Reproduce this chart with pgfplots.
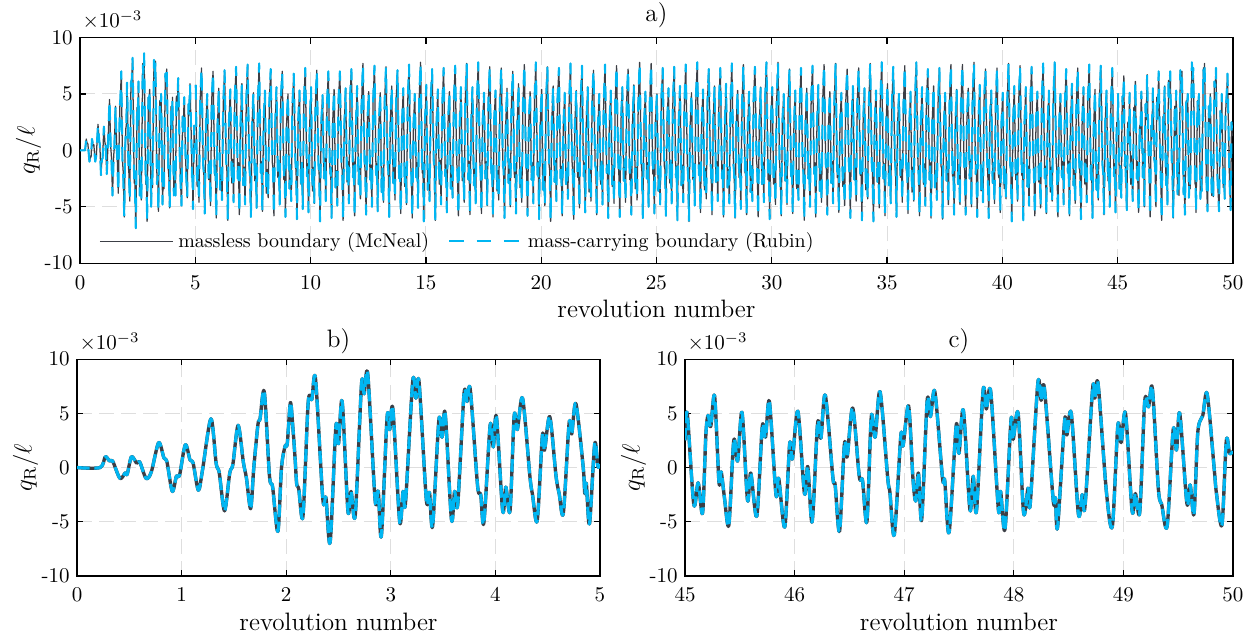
\documentclass[border=0pt]{standalone}
\usepackage{pgfplots}
\usepackage{pgfplotstable}
\pgfplotsset{compat=1.18}
\definecolor{cblk}{RGB}{60,63,70}
\definecolor{cblu}{RGB}{0,182,242}
\definecolor{cgrid}{RGB}{222,222,222}

\pgfplotstableread[row sep=\\]{
x y\\
0 0\\ 0.22 0\\ 0.27 1.0\\ 0.31 0.6\\ 0.34 0.6\\ 0.41 -1.0\\ 0.46 -0.5\\ 0.48 -0.6\\ 0.52 1.0\\ 0.57 0.4\\ 0.60 0.5\\ 0.66 -1.0\\ 0.71 -0.4\\ 0.78 2.3\\ 0.83 0.9\\ 0.86 0.5\\ 0.91 -2.2\\ 0.95 -0.8\\ 0.98 -0.7\\
1.035 2.1\\ 1.08 0.7\\ 1.11 0.4\\ 1.16 -2.1\\ 1.20 -0.2\\ 1.28 4.5\\ 1.33 0.4\\ 1.36 -0.5\\ 1.41 -4.0\\ 1.46 -0.5\\ 1.49 0.3\\ 1.54 3.9\\ 1.59 0.5\\ 1.62 -1.0\\ 1.66 -3.8\\ 1.69 0.0\\ 1.73 4.0\\ 1.75 4.5\\ 1.79 7.0\\ 1.84 -0.8\\ 1.87 -1.8\\ 1.92 -5.9\\ 1.955 0.0\\ 1.99 2.0\\
2.01 2.2\\ 2.04 6.0\\ 2.065 3.5\\ 2.085 0.8\\ 2.10 -1.5\\ 2.12 -2.0\\ 2.16 -4.5\\ 2.21 6.0\\ 2.245 6.3\\ 2.28 8.2\\ 2.35 -2.9\\ 2.38 -2.8\\ 2.42 -6.9\\ 2.475 3.8\\ 2.50 2.2\\ 2.535 6.1\\ 2.59 -4.0\\ 2.62 -2.2\\ 2.66 -4.4\\ 2.72 7.7\\ 2.745 6.8\\ 2.78 8.6\\ 2.85 -3.0\\ 2.88 -2.2\\ 2.91 -6.3\\ 2.965 4.7\\ 2.99 3.5\\
3.02 5.4\\ 3.085 -5.0\\ 3.117 -2.2\\ 3.14 -3.3\\ 3.21 8.0\\ 3.24 6.4\\ 3.27 7.9\\ 3.34 -3.0\\ 3.37 -2.3\\ 3.40 -5.4\\ 3.46 4.4\\ 3.49 2.8\\ 3.52 5.0\\ 3.58 -4.8\\ 3.61 -2.2\\ 3.64 -3.4\\ 3.70 6.8\\ 3.73 6.1\\ 3.76 7.2\\ 3.83 -1.7\\ 3.86 -2.5\\ 3.89 -5.1\\ 3.95 3.9\\ 3.98 1.9\\
4.01 4.7\\ 4.07 -4.0\\ 4.10 -1.8\\ 4.14 -4.0\\ 4.18 4.8\\ 4.21 3.5\\ 4.26 6.4\\ 4.33 -0.8\\ 4.355 -2.5\\ 4.40 -4.9\\ 4.45 3.0\\ 4.47 1.6\\ 4.52 4.7\\ 4.58 -0.8\\ 4.61 -2.4\\ 4.65 -4.2\\ 4.705 4.1\\ 4.73 3.1\\ 4.77 5.9\\ 4.84 0.0\\ 4.855 -2.4\\ 4.87 -1.5\\ 4.90 -5.2\\ 4.95 2.2\\ 4.98 0.1\\ 5.0 0.3\\
}\bdata

\pgfplotstableread[row sep=\\]{
x y\\
45.00 2.5\\ 45.02 5.0\\ 45.08 -3.4\\ 45.12 -1.4\\ 45.16 -4.2\\ 45.19 3.0\\ 45.21 4.8\\ 45.235 3.8\\ 45.27 6.6\\ 45.31 -1.4\\ 45.33 -0.4\\ 45.36 -2.8\\ 45.40 -5.3\\ 45.445 2.5\\ 45.48 0.6\\ 45.52 5.1\\ 45.57 -3.0\\ 45.60 -0.5\\ 45.655 -4.5\\ 45.705 3.8\\ 45.735 2.8\\ 45.77 6.1\\ 45.83 -2.5\\ 45.855 -1.0\\ 45.91 -5.5\\ 45.955 2.2\\ 45.98 0.8\\
46.03 5.2\\ 46.09 -2.4\\ 46.12 0.1\\ 46.16 -5.0\\ 46.21 4.1\\ 46.24 2.7\\ 46.28 6.7\\ 46.35 -1.0\\ 46.37 -1.6\\ 46.41 -5.9\\ 46.455 2.2\\ 46.48 1.0\\ 46.53 5.5\\ 46.59 -0.8\\ 46.62 -1.2\\ 46.66 -5.0\\ 46.70 4.7\\ 46.735 2.8\\ 46.78 7.0\\ 46.85 -1.0\\ 46.87 -2.3\\ 46.91 -6.2\\ 46.97 3.0\\ 46.99 2.0\\
47.04 5.7\\ 47.08 -1.0\\ 47.105 -3.1\\ 47.13 -0.5\\ 47.16 -4.8\\ 47.21 6.2\\ 47.24 4.7\\ 47.28 7.0\\ 47.35 -1.0\\ 47.37 -1.2\\ 47.41 -6.0\\ 47.475 3.9\\ 47.50 1.3\\ 47.54 5.3\\ 47.60 -3.9\\ 47.63 -0.8\\ 47.66 -4.0\\ 47.72 7.1\\ 47.75 5.4\\ 47.79 7.0\\ 47.86 -3.9\\ 47.88 -2.2\\ 47.92 -5.7\\ 47.975 4.4\\ 47.995 2.6\\
48.04 5.0\\ 48.09 -4.2\\ 48.13 -1.9\\ 48.15 -3.4\\ 48.22 7.8\\ 48.25 6.2\\ 48.28 7.3\\ 48.36 -3.0\\ 48.38 -2.8\\ 48.40 -5.5\\ 48.465 4.4\\ 48.485 3.0\\ 48.525 5.0\\ 48.59 -4.3\\ 48.625 -2.5\\ 48.65 -3.6\\ 48.72 7.3\\ 48.74 6.4\\ 48.77 7.7\\ 48.845 -2.2\\ 48.90 -5.4\\ 48.95 3.9\\ 48.98 2.3\\
49.02 5.0\\ 49.08 -4.0\\ 49.11 -2.4\\ 49.15 -4.1\\ 49.195 6.1\\ 49.23 5.6\\ 49.265 7.3\\ 49.32 -2.0\\ 49.35 -3.4\\ 49.40 -5.4\\ 49.455 3.5\\ 49.485 1.6\\ 49.515 5.0\\ 49.58 -3.3\\ 49.61 -1.6\\ 49.645 -4.3\\ 49.68 3.3\\ 49.725 4.8\\ 49.765 6.8\\ 49.83 -0.2\\ 49.85 -2.4\\ 49.90 -5.3\\ 49.94 2.5\\ 49.97 1.3\\ 50.0 1.5\\
}\cdata

\pgfplotstableread[row sep=\\]{
x y\\
5.02 5.8\\5.08 -3.2\\5.12 -1.4\\5.16 -4.6\\5.21 4.3\\5.27 7.3\\5.34 -1.2\\5.37 -2.0\\5.41 -5.6\\5.46 2.4\\5.52 5.0\\5.58 -2.6\\5.62 -1.0\\5.66 -4.9\\5.71 4.4\\5.77 7.0\\5.84 -2.2\\5.87 -1.3\\5.91 -6.0\\5.96 2.1\\
6.02 5.5\\6.08 -3.5\\6.12 -1.6\\6.16 -4.4\\6.21 4.0\\6.27 7.1\\6.34 -1.0\\6.37 -1.8\\6.41 -6.2\\6.46 2.6\\6.52 5.4\\6.58 -2.9\\6.62 -0.8\\6.66 -4.6\\6.71 4.6\\6.77 7.4\\6.84 -2.5\\6.87 -1.1\\6.91 -5.7\\6.96 2.3\\
7.02 5.9\\7.08 -3.1\\7.12 -1.5\\7.16 -4.8\\7.21 4.4\\7.27 7.6\\7.34 -1.3\\7.37 -2.2\\7.41 -5.9\\7.46 2.2\\7.52 5.1\\7.58 -2.7\\7.62 -1.2\\7.66 -5.1\\7.71 4.1\\7.77 7.7\\7.84 -2.0\\7.87 -1.0\\7.91 -5.4\\7.96 2.5\\
8.02 5.3\\8.08 -3.8\\8.12 -1.7\\8.16 -4.2\\8.21 4.2\\8.27 7.2\\8.34 -1.1\\8.37 -1.6\\8.41 -5.8\\8.46 2.0\\8.52 5.6\\8.58 -2.4\\8.62 -0.9\\8.66 -4.8\\8.71 4.5\\8.77 7.0\\8.84 -2.6\\8.87 -1.4\\8.91 -5.9\\8.96 2.4\\
9.02 5.0\\9.08 -3.4\\9.12 -1.3\\9.16 -4.5\\9.21 3.9\\9.27 6.8\\9.34 -0.9\\9.37 -1.9\\9.41 -6.1\\9.46 2.5\\9.52 5.3\\9.58 -3.0\\9.62 -1.1\\9.66 -5.2\\9.71 4.3\\9.77 7.3\\9.84 -2.3\\9.87 -1.2\\9.91 -5.5\\9.96 2.2\\
10.02 5.6\\10.08 -3.6\\10.12 -1.5\\10.16 -4.7\\10.21 4.1\\10.27 7.1\\10.34 -1.2\\10.37 -2.1\\10.41 -6.3\\10.46 2.3\\10.52 4.9\\10.58 -2.5\\10.62 -0.7\\10.66 -4.5\\10.71 4.0\\10.77 7.0\\10.84 -2.1\\10.87 -1.5\\10.91 -6.0\\10.96 2.6\\
11.02 5.4\\11.08 -3.3\\11.12 -1.8\\11.16 -4.9\\11.21 4.5\\11.27 7.0\\11.34 -1.4\\11.37 -1.7\\11.41 -6.2\\11.46 2.1\\11.52 5.5\\11.58 -2.8\\11.62 -1.0\\11.66 -4.7\\11.71 4.6\\11.77 7.2\\11.84 -2.4\\11.87 -1.0\\11.91 -5.8\\11.96 2.0\\
12.02 5.7\\12.08 -3.0\\12.12 -1.4\\12.16 -4.3\\12.21 4.0\\12.27 7.7\\12.34 -1.0\\12.37 -2.0\\12.41 -5.7\\12.46 2.4\\12.52 5.2\\12.58 -2.6\\12.62 -1.3\\12.66 -5.0\\12.71 4.2\\12.77 7.5\\12.84 -2.2\\12.87 -1.2\\12.91 -5.4\\12.96 2.3\\
13.02 5.1\\13.08 -3.7\\13.12 -1.6\\13.16 -4.6\\13.21 4.3\\13.27 7.4\\13.34 -1.1\\13.37 -1.8\\13.41 -5.9\\13.46 2.6\\13.52 5.7\\13.58 -2.9\\13.62 -0.8\\13.66 -4.4\\13.71 4.4\\13.77 7.1\\13.84 -2.5\\13.87 -1.4\\13.91 -5.6\\13.96 2.1\\
14.02 5.5\\14.08 -3.2\\14.12 -1.5\\14.16 -4.8\\14.21 4.1\\14.27 7.6\\14.34 -1.3\\14.37 -2.2\\14.41 -6.0\\14.46 2.2\\14.52 5.0\\14.58 -2.4\\14.62 -1.1\\14.66 -5.1\\14.71 4.6\\14.77 7.8\\14.84 -2.0\\14.87 -1.1\\14.91 -6.3\\14.96 2.5\\
15.02 5.8\\15.08 -3.5\\15.12 -1.7\\15.16 -4.5\\15.21 4.4\\15.27 7.2\\15.34 -0.9\\15.37 -1.6\\15.41 -6.2\\15.46 2.3\\15.52 5.4\\15.58 -3.0\\15.62 -0.9\\15.66 -4.8\\15.71 4.0\\15.77 7.3\\15.84 -2.3\\15.87 -1.3\\15.91 -5.5\\15.96 2.4\\
16.02 5.2\\16.08 -3.4\\16.12 -1.4\\16.16 -4.2\\16.21 4.2\\16.27 7.5\\16.34 -1.2\\16.37 -2.0\\16.41 -5.8\\16.46 2.0\\16.52 5.6\\16.58 -2.7\\16.62 -1.2\\16.66 -4.6\\16.71 4.5\\16.77 7.7\\16.84 -2.6\\16.87 -1.0\\16.91 -5.7\\16.96 2.2\\
17.02 5.6\\17.08 -3.1\\17.12 -1.6\\17.16 -4.7\\17.21 4.0\\17.27 7.8\\17.34 -1.0\\17.37 -1.9\\17.41 -5.6\\17.46 2.5\\17.52 5.1\\17.58 -2.5\\17.62 -1.0\\17.66 -4.9\\17.71 4.3\\17.77 7.4\\17.84 -2.1\\17.87 -1.5\\17.91 -5.9\\17.96 2.6\\
18.02 5.3\\18.08 -3.6\\18.12 -1.8\\18.16 -4.4\\18.21 4.5\\18.27 7.3\\18.34 -1.4\\18.37 -1.7\\18.41 -6.0\\18.46 2.1\\18.52 5.5\\18.58 -2.9\\18.62 -0.8\\18.66 -5.0\\18.71 4.1\\18.77 7.0\\18.84 -2.4\\18.87 -1.2\\18.91 -5.6\\18.96 2.3\\
19.02 5.9\\19.08 -3.3\\19.12 -1.5\\19.16 -4.6\\19.21 4.1\\19.27 7.6\\19.34 -1.1\\19.37 -2.1\\19.41 -5.8\\19.46 2.4\\19.52 5.2\\19.58 -2.6\\19.62 -1.1\\19.66 -4.7\\19.71 4.4\\19.77 7.8\\19.84 -2.2\\19.87 -1.0\\19.91 -6.1\\19.96 2.2\\
20.02 5.4\\20.08 -3.5\\20.12 -1.3\\20.16 -4.9\\20.21 4.3\\20.27 7.4\\20.34 -1.2\\20.37 -1.8\\20.41 -6.3\\20.46 2.6\\20.52 5.7\\20.58 -2.8\\20.62 -0.9\\20.66 -4.5\\20.71 4.6\\20.77 7.3\\20.84 -2.5\\20.87 -1.4\\20.91 -5.8\\20.96 2.0\\
21.02 5.1\\21.08 -3.0\\21.12 -1.6\\21.16 -4.3\\21.21 4.0\\21.27 7.7\\21.34 -1.0\\21.37 -2.0\\21.41 -6.1\\21.46 2.3\\21.52 5.3\\21.58 -2.4\\21.62 -1.2\\21.66 -5.1\\21.71 4.2\\21.77 7.5\\21.84 -2.3\\21.87 -1.1\\21.91 -5.5\\21.96 2.5\\
22.02 5.6\\22.08 -3.7\\22.12 -1.7\\22.16 -4.5\\22.21 4.4\\22.27 7.1\\22.34 -1.3\\22.37 -1.6\\22.41 -5.7\\22.46 2.1\\22.52 5.0\\22.58 -3.0\\22.62 -1.0\\22.66 -4.8\\22.71 4.0\\22.77 7.6\\22.84 -2.0\\22.87 -1.3\\22.91 -6.0\\22.96 2.4\\
23.02 5.3\\23.08 -3.2\\23.12 -1.4\\23.16 -4.7\\23.21 4.2\\23.27 7.5\\23.34 -0.9\\23.37 -2.2\\23.41 -5.9\\23.46 2.5\\23.52 5.6\\23.58 -2.7\\23.62 -0.8\\23.66 -4.6\\23.71 4.5\\23.77 7.2\\23.84 -2.6\\23.87 -1.2\\23.91 -5.7\\23.96 2.2\\
24.02 5.8\\24.08 -3.4\\24.12 -1.5\\24.16 -4.4\\24.21 4.1\\24.27 7.8\\24.34 -1.1\\24.37 -1.9\\24.41 -6.0\\24.46 2.2\\24.52 5.2\\24.58 -2.5\\24.62 -1.1\\24.66 -5.0\\24.71 4.3\\24.77 7.7\\24.84 -2.1\\24.87 -1.0\\24.91 -5.6\\24.96 2.6\\
25.02 5.0\\25.08 -3.6\\25.12 -1.8\\25.16 -4.8\\25.21 4.5\\25.27 7.3\\25.34 -1.4\\25.37 -1.7\\25.41 -5.8\\25.46 2.4\\25.52 5.5\\25.58 -2.9\\25.62 -0.9\\25.66 -4.7\\25.71 4.1\\25.77 7.4\\25.84 -2.4\\25.87 -1.4\\25.91 -6.2\\25.96 2.3\\
26.02 5.7\\26.08 -3.1\\26.12 -1.3\\26.16 -4.6\\26.21 4.0\\26.27 7.6\\26.34 -1.2\\26.37 -2.1\\26.41 -6.3\\26.46 2.0\\26.52 5.1\\26.58 -2.6\\26.62 -1.2\\26.66 -4.9\\26.71 4.6\\26.77 7.8\\26.84 -2.2\\26.87 -1.1\\26.91 -5.5\\26.96 2.5\\
27.02 5.4\\27.08 -3.5\\27.12 -1.6\\27.16 -4.3\\27.21 4.3\\27.27 7.2\\27.34 -1.0\\27.37 -1.8\\27.41 -5.7\\27.46 2.6\\27.52 5.7\\27.58 -2.8\\27.62 -1.0\\27.66 -4.5\\27.71 4.4\\27.77 7.3\\27.84 -2.5\\27.87 -1.3\\27.91 -5.9\\27.96 2.1\\
28.02 5.9\\28.08 -3.3\\28.12 -1.7\\28.16 -4.7\\28.21 4.2\\28.27 7.7\\28.34 -1.3\\28.37 -2.0\\28.41 -6.0\\28.46 2.3\\28.52 5.3\\28.58 -2.4\\28.62 -0.8\\28.66 -5.2\\28.71 4.0\\28.77 7.6\\28.84 -2.0\\28.87 -1.0\\28.91 -5.7\\28.96 2.4\\
29.02 5.2\\29.08 -3.7\\29.12 -1.4\\29.16 -4.5\\29.21 4.4\\29.27 7.4\\29.34 -0.9\\29.37 -1.6\\29.41 -5.9\\29.46 2.2\\29.52 5.6\\29.58 -3.0\\29.62 -1.1\\29.66 -4.6\\29.71 4.5\\29.77 7.8\\29.84 -2.6\\29.87 -1.2\\29.91 -6.1\\29.96 2.6\\
30.02 5.6\\30.08 -3.0\\30.12 -1.5\\30.16 -4.8\\30.21 4.1\\30.27 7.8\\30.34 -1.1\\30.37 -2.2\\30.41 -5.8\\30.46 2.5\\30.52 5.0\\30.58 -2.7\\30.62 -0.9\\30.66 -4.8\\30.71 4.2\\30.77 7.2\\30.84 -2.3\\30.87 -1.4\\30.91 -5.6\\30.96 2.0\\
31.02 5.3\\31.08 -3.4\\31.12 -1.8\\31.16 -4.4\\31.21 4.0\\31.27 7.3\\31.34 -1.4\\31.37 -1.9\\31.41 -6.2\\31.46 2.4\\31.52 5.5\\31.58 -2.5\\31.62 -1.2\\31.66 -5.0\\31.71 4.6\\31.77 7.5\\31.84 -2.1\\31.87 -1.1\\31.91 -5.9\\31.96 2.2\\
32.02 5.8\\32.08 -3.6\\32.12 -1.3\\32.16 -4.6\\32.21 4.5\\32.27 7.6\\32.34 -1.2\\32.37 -1.7\\32.41 -5.7\\32.46 2.1\\32.52 5.2\\32.58 -2.9\\32.62 -1.0\\32.66 -4.7\\32.71 4.1\\32.77 7.7\\32.84 -2.4\\32.87 -1.3\\32.91 -5.5\\32.96 2.5\\
33.02 5.1\\33.08 -3.2\\33.12 -1.6\\33.16 -4.9\\33.21 4.3\\33.27 7.2\\33.34 -1.0\\33.37 -2.1\\33.41 -6.0\\33.46 2.6\\33.52 5.7\\33.58 -2.6\\33.62 -0.8\\33.66 -4.5\\33.71 4.3\\33.77 7.3\\33.84 -2.2\\33.87 -1.0\\33.91 -6.2\\33.96 2.3\\
34.02 5.5\\34.08 -3.5\\34.12 -1.7\\34.16 -4.3\\34.21 4.2\\34.27 7.7\\34.34 -1.3\\34.37 -2.0\\34.41 -6.3\\34.46 2.2\\34.52 5.3\\34.58 -2.8\\34.62 -1.1\\34.66 -5.1\\34.71 4.4\\34.77 7.8\\34.84 -2.5\\34.87 -1.2\\34.91 -5.8\\34.96 2.4\\
35.02 5.9\\35.08 -3.1\\35.12 -1.4\\35.16 -4.7\\35.21 4.1\\35.27 7.4\\35.34 -0.9\\35.37 -1.8\\35.41 -5.9\\35.46 2.5\\35.52 5.0\\35.58 -2.4\\35.62 -0.9\\35.66 -4.6\\35.71 4.0\\35.77 7.5\\35.84 -2.0\\35.87 -1.4\\35.91 -5.6\\35.96 2.1\\
36.02 5.2\\36.08 -3.7\\36.12 -1.5\\36.16 -4.5\\36.21 4.4\\36.27 7.8\\36.34 -1.1\\36.37 -2.2\\36.41 -5.8\\36.46 2.3\\36.52 5.6\\36.58 -3.0\\36.62 -1.2\\36.66 -4.9\\36.71 4.5\\36.77 7.2\\36.84 -2.6\\36.87 -1.1\\36.91 -6.0\\36.96 2.6\\
37.02 5.7\\37.08 -3.3\\37.12 -1.8\\37.16 -4.4\\37.21 4.0\\37.27 7.3\\37.34 -1.4\\37.37 -1.6\\37.41 -6.1\\37.46 2.0\\37.52 5.1\\37.58 -2.7\\37.62 -1.0\\37.66 -4.8\\37.71 4.2\\37.77 7.6\\37.84 -2.3\\37.87 -1.0\\37.91 -5.7\\37.96 2.2\\
38.02 5.4\\38.08 -3.0\\38.12 -1.3\\38.16 -4.8\\38.21 4.3\\38.27 7.6\\38.34 -1.2\\38.37 -1.9\\38.41 -5.7\\38.46 2.4\\38.52 5.5\\38.58 -2.5\\38.62 -0.8\\38.66 -5.0\\38.71 4.6\\38.77 7.8\\38.84 -2.1\\38.87 -1.3\\38.91 -5.9\\38.96 2.5\\
39.02 5.8\\39.08 -3.6\\39.12 -1.6\\39.16 -4.6\\39.21 4.5\\39.27 7.2\\39.34 -1.0\\39.37 -2.1\\39.41 -6.0\\39.46 2.6\\39.52 5.3\\39.58 -2.9\\39.62 -1.1\\39.66 -4.7\\39.71 4.1\\39.77 7.3\\39.84 -2.4\\39.87 -1.2\\39.91 -5.5\\39.96 2.3\\
40.02 5.1\\40.08 -3.4\\40.12 -1.7\\40.16 -4.3\\40.21 4.2\\40.27 7.7\\40.34 -1.3\\40.37 -1.7\\40.41 -6.3\\40.46 2.1\\40.52 5.7\\40.58 -2.6\\40.62 -0.9\\40.66 -4.5\\40.71 4.4\\40.77 7.5\\40.84 -2.2\\40.87 -1.1\\40.91 -6.2\\40.96 2.4\\
41.02 5.6\\41.08 -3.2\\41.12 -1.4\\41.16 -4.9\\41.21 4.1\\41.27 7.4\\41.34 -0.9\\41.37 -2.0\\41.41 -5.8\\41.46 2.5\\41.52 5.2\\41.58 -2.8\\41.62 -1.2\\41.66 -5.1\\41.71 4.3\\41.77 7.7\\41.84 -2.5\\41.87 -1.4\\41.91 -5.6\\41.96 2.2\\
42.02 5.3\\42.08 -3.7\\42.12 -1.5\\42.16 -4.5\\42.21 4.4\\42.27 7.8\\42.34 -1.1\\42.37 -1.8\\42.41 -5.9\\42.46 2.2\\42.52 5.0\\42.58 -2.4\\42.62 -1.0\\42.66 -4.8\\42.71 4.0\\42.77 7.2\\42.84 -2.0\\42.87 -1.0\\42.91 -5.8\\42.96 2.6\\
43.02 5.9\\43.08 -3.1\\43.12 -1.8\\43.16 -4.7\\43.21 4.0\\43.27 7.3\\43.34 -1.4\\43.37 -2.2\\43.41 -6.1\\43.46 2.3\\43.52 5.6\\43.58 -3.0\\43.62 -0.8\\43.66 -4.6\\43.71 4.5\\43.77 7.6\\43.84 -2.6\\43.87 -1.3\\43.91 -6.0\\43.96 2.1\\
44.02 5.4\\44.08 -3.5\\44.12 -1.3\\44.16 -4.4\\44.21 4.3\\44.27 7.5\\44.34 -1.2\\44.37 -1.9\\44.41 -5.7\\44.46 2.4\\44.52 5.3\\44.58 -2.7\\44.62 -1.1\\44.66 -5.0\\44.71 4.2\\44.77 7.3\\44.84 -2.3\\44.87 -1.2\\44.91 -5.5\\44.96 2.5\\
}\mdata

\pgfplotsset{
  myax/.style={
    scale only axis, no markers,
    axis line style={line width=0.6pt, black},
    tick align=inside, tick pos=both,
    major tick length=3pt,
    every tick/.style={black, line width=0.6pt},
    grid=major,
    major grid style={cgrid, line width=0.5pt, dash pattern=on 7pt off 3.5pt},
    ymin=-10, ymax=10, ytick={-10,-5,0,5,10}, yticklabels={-10,-5,0,5,10},
    tick label style={font=\fontsize{10}{12}\selectfont},
    xticklabel style={yshift=-2.4pt},
    label style={font=\fontsize{12}{14}\selectfont},
    xlabel={revolution number},
    ylabel={$q_{\mathrm{R}}/\ell$},
    xlabel style={at={(axis description cs:0.5,0)}, anchor=north, inner sep=0pt, yshift=-17.5pt},
  },
  blkT/.style={cblk, line width=0.6pt, line join=round},
  bluT/.style={cblu, line width=1.0pt, line join=round, dash pattern=on 7pt off 6pt},
  blkB/.style={cblk, line width=1.6pt, line join=round, smooth},
  bluB/.style={cblu, line width=1.5pt, line join=round, smooth, dash pattern=on 6pt off 2.2pt},
}

\begin{document}
\begin{tikzpicture}
\useasboundingbox (0,0) rectangle (599.05pt,305.24pt);

\begin{axis}[myax, name=top, at={(38.1pt,179.9pt)}, anchor=south west,
  width=549pt, height=107.5pt, xmin=0, xmax=50, xtick={0,5,...,50},
  ylabel style={at={(axis description cs:-0.0446,0.5)}, anchor=center},
  legend columns=2,
  legend style={at={(axis description cs:0,0)}, anchor=south west, draw=none, fill=none,
    inner sep=0pt, xshift=9pt, yshift=4pt, font=\fontsize{9.5}{11}\selectfont,
    /tikz/every even column/.append style={column sep=7pt}},
  legend image code/.code={\draw[#1] (0pt,0pt) -- (35pt,0pt);},
]
\addplot[blkT] table {\bdata};
\addlegendentry{massless boundary (McNeal)}
\addplot[blkT, forget plot] table {\mdata};
\addplot[blkT, forget plot] table {\cdata};
\addplot[bluT] table {\bdata};
\addlegendentry{mass-carrying boundary (Rubin)}
\addplot[bluT, forget plot] table {\mdata};
\addplot[bluT, forget plot] table {\cdata};
\end{axis}

\begin{axis}[myax, name=bb, at={(36.7pt,31.0pt)}, anchor=south west,
  width=249pt, height=103.2pt, xmin=0, xmax=5, xtick={0,1,...,5},
  ylabel style={at={(axis description cs:-0.0984,0.5)}, anchor=center},
]
\addplot[blkB] table {\bdata};
\addplot[bluB] table {\bdata};
\end{axis}

\begin{axis}[myax, name=cc, at={(326.2pt,31.0pt)}, anchor=south west,
  width=260.9pt, height=103.2pt, xmin=45, xmax=50, xtick={45,46,...,50},
  ylabel style={at={(axis description cs:-0.0939,0.5)}, anchor=center},
]
\addplot[blkB] table {\cdata};
\addplot[bluB] table {\cdata};
\end{axis}

\foreach \n in {top,bb,cc}{
  \node[anchor=south west, inner sep=0pt, font=\fontsize{10}{12}\selectfont] at ([xshift=1pt,yshift=3.5pt]\n.north west) {$\times10^{-3}$};
}
\node[anchor=base, inner sep=0pt, font=\fontsize{12}{14}\selectfont] at ([yshift=7.4pt]top.north) {a)};
\node[anchor=base, inner sep=0pt, font=\fontsize{12}{14}\selectfont] at ([yshift=5.5pt]bb.north) {b)};
\node[anchor=base, inner sep=0pt, font=\fontsize{12}{14}\selectfont] at ([yshift=5.5pt]cc.north) {c)};
\end{tikzpicture}
\end{document}
